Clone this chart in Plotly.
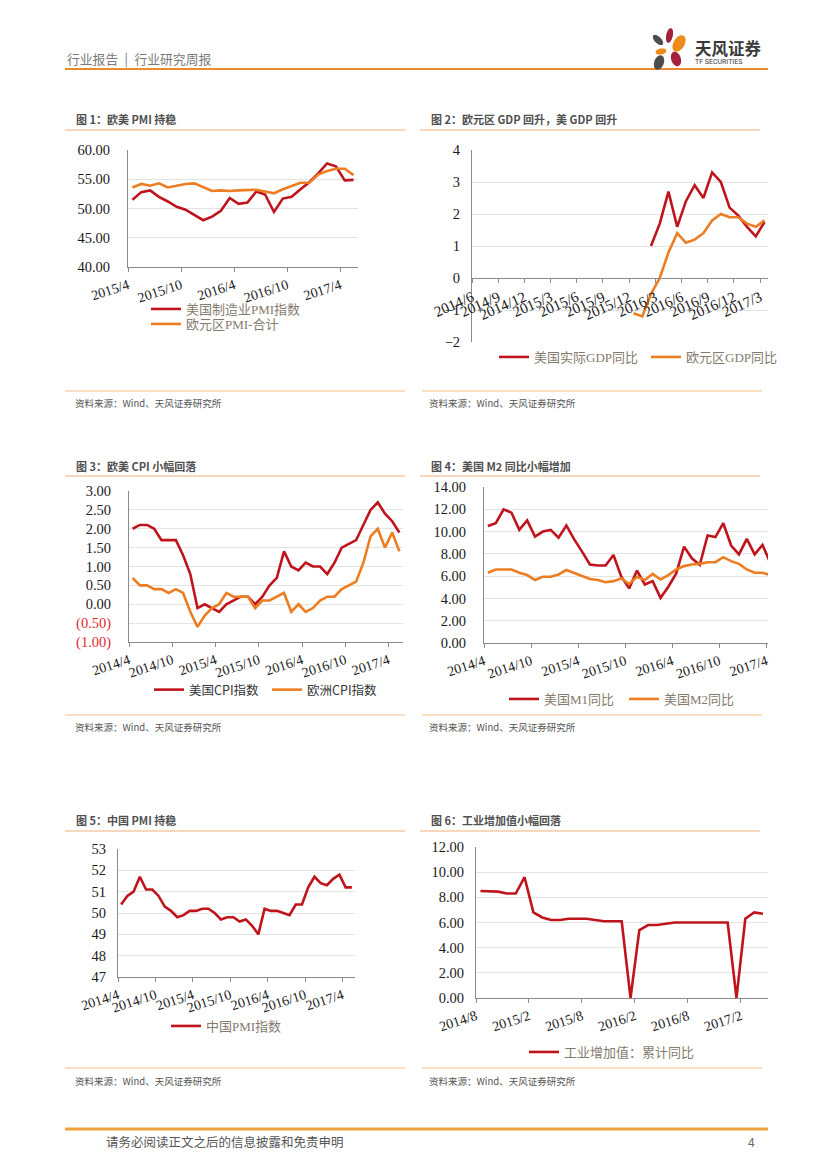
import math
import plotly.graph_objects as go

# The page body has an 8px margin, so the figure is 8px smaller each way and
# page pixel coordinates are shifted by that margin.
PAGE_W, PAGE_H = 827, 1169
OFF = 8
W, H = PAGE_W - OFF, PAGE_H - OFF


def fx(p):
    return (p - OFF) / W


def fy(p):
    return 1 - (p - OFF) / H


def months(y, m, n):
    out = []
    for _ in range(n):
        out.append(f"{y}/{m}")
        m += 1
        if m > 12:
            m = 1
            y += 1
    return out


# ---------------- data ----------------
# Chart 1: 欧美 PMI
c1_months = months(2015, 4, 26)
c1_ticks = ["2015/4", "2015/10", "2016/4", "2016/10", "2017/4"]
us_pmi = [51.5, 52.8, 53.1, 52.0, 51.2, 50.3, 49.8, 48.9, 48.0, 48.6, 49.6, 51.8, 50.8,
          51.0, 52.9, 52.4, 49.4, 51.7, 52.0, 53.3, 54.5, 56.0, 57.7, 57.2, 54.8, 54.9]
eu_pmi = [53.6, 54.2, 53.9, 54.3, 53.6, 53.9, 54.2, 54.3, 53.6, 53.0, 53.1, 53.0, 53.1,
          53.1, 53.2, 52.9, 52.6, 53.3, 53.9, 54.4, 54.4, 55.8, 56.4, 56.8, 56.8, 55.7]

# Chart 2: GDP 同比
c2_months = months(2014, 6, 34)
c2_ticks = ["2014/6", "2014/9", "2014/12", "2015/3", "2015/6", "2015/9", "2015/12",
            "2016/3", "2016/6", "2016/9", "2016/12", "2017/3"]
us_gdp = [None] * 20 + [1.0, 1.7, 2.7, 1.6, 2.4, 2.9, 2.5, 3.3, 3.0, 2.2, 1.95, 1.6, 1.3, 1.75]
eu_gdp = [None] * 18 + [-1.1, -1.2, -0.5, 0.0, 0.8, 1.4, 1.1, 1.2, 1.4, 1.8, 2.0, 1.9, 1.9,
                        1.7, 1.6, 1.8]

# Chart 3: CPI
c3_months = months(2014, 4, 38)
c3_ticks = ["2014/4", "2014/10", "2015/4", "2015/10", "2016/4", "2016/10", "2017/4"]
us_cpi = [2.0, 2.1, 2.1, 2.0, 1.7, 1.7, 1.7, 1.3, 0.8, -0.1, 0.0, -0.1, -0.2, 0.0, 0.1,
          0.2, 0.2, 0.0, 0.2, 0.5, 0.7, 1.4, 1.0, 0.9, 1.1, 1.0, 1.0, 0.8, 1.1, 1.5, 1.6,
          1.7, 2.1, 2.5, 2.7, 2.4, 2.2, 1.9]
eu_cpi = [0.7, 0.5, 0.5, 0.4, 0.4, 0.3, 0.4, 0.3, -0.2, -0.6, -0.3, -0.1, 0.0, 0.3, 0.2,
          0.2, 0.2, -0.1, 0.1, 0.1, 0.2, 0.3, -0.2, 0.0, -0.2, -0.1, 0.1, 0.2, 0.2, 0.4,
          0.5, 0.6, 1.1, 1.8, 2.0, 1.5, 1.9, 1.4]

# Chart 4: M1 / M2
c4_months = months(2014, 4, 37)
c4_ticks = ["2014/4", "2014/10", "2015/4", "2015/10", "2016/4", "2016/10", "2017/4"]
us_m1 = [10.5, 10.75, 12.0, 11.7, 10.15, 11.0, 9.55, 10.0, 10.15, 9.45, 10.55, 9.3, 8.2,
         7.05, 6.95, 6.95, 7.9, 5.95, 4.9, 6.5, 5.25, 5.55, 4.05, 5.05, 6.25, 8.65, 7.6,
         7.0, 9.65, 9.5, 10.75, 8.75, 7.95, 9.35, 7.95, 8.8, 7.2]
us_m2 = [6.3, 6.6, 6.6, 6.6, 6.3, 6.1, 5.65, 5.95, 5.95, 6.15, 6.55, 6.3, 6.05, 5.75, 5.65,
         5.45, 5.55, 5.8, 5.3, 5.95, 5.65, 6.2, 5.7, 6.1, 6.6, 6.9, 7.05, 7.1, 7.25, 7.25,
         7.7, 7.35, 7.1, 6.6, 6.3, 6.3, 6.1]

# Chart 5: 中国 PMI
c5_months = months(2014, 4, 38)
c5_ticks = ["2014/4", "2014/10", "2015/4", "2015/10", "2016/4", "2016/10", "2017/4"]
cn_pmi = [50.4, 50.8, 51.0, 51.7, 51.1, 51.1, 50.8, 50.3, 50.1, 49.8, 49.9, 50.1, 50.1,
          50.2, 50.2, 50.0, 49.7, 49.8, 49.8, 49.6, 49.7, 49.4, 49.0, 50.2, 50.1, 50.1,
          50.0, 49.9, 50.4, 50.4, 51.2, 51.7, 51.4, 51.3, 51.6, 51.8, 51.2, 51.2]

# Chart 6: 工业增加值
c6_months = months(2014, 8, 33)
c6_ticks = ["2014/8", "2015/2", "2015/8", "2016/2", "2016/8", "2017/2"]
iva = [8.5, 8.5, 8.45, 8.3, 8.3, 9.6, 6.8, 6.4, 6.2, 6.2, 6.3, 6.3, 6.3, 6.2, 6.1, 6.1,
       6.1, 0.0, 5.4, 5.8, 5.8, 5.9, 6.0, 6.0, 6.0, 6.0, 6.0, 6.0, 6.0, 0.0, 6.3, 6.8, 6.7]

# ---------------- styling ----------------
RED = "#c0141c"
ORANGE = "#ec7d22"
AX = "#8a8a8a"
GRID = "#e3e3e3"
SERIF = "Liberation Serif, Noto Sans CJK SC"
SANS = "Noto Sans CJK SC"
XFONT = dict(family=SERIF, size=14, color="#1a1a1a")
YFONT = dict(family=SERIF, size=14.5, color="#1a1a1a")
LEG_SERIF = dict(family=SERIF, size=13, color="#857a6e")
LEG_SANS = dict(family=SANS, size=12.5, color="#333333")

fig = go.Figure()


def setup_axes(n, xpx, ypx, xrange, yrange, labels, ticklabels, yvals, ytext,
               angle, standoff, xpos_px=None, xfont=XFONT):
    sx = "" if n == 1 else str(n)
    tv = [labels.index(t) - 0.5 for t in ticklabels]
    xa = dict(domain=[fx(xpx[0]), fx(xpx[1])], range=xrange, tickmode="array",
              tickvals=tv, ticktext=ticklabels, tickangle=angle, showgrid=False,
              zeroline=False, showline=True, linecolor=AX, linewidth=1,
              ticks="outside", ticklen=4, tickcolor=AX, tickfont=xfont,
              automargin=False)
    if xpos_px is None:
        xa["anchor"] = "y" + sx
    else:
        xa["anchor"] = "free"
        xa["position"] = fy(xpos_px)
    ya = dict(domain=[fy(ypx[1]), fy(ypx[0])], range=yrange, anchor="x" + sx,
              tickmode="array", tickvals=yvals, ticktext=ytext, showgrid=True,
              gridcolor=GRID, gridwidth=1, zeroline=False, showline=True,
              linecolor=AX, linewidth=1, ticks="", tickfont=YFONT,
              ticklabelstandoff=standoff, automargin=False)
    fig.update_layout(**{"xaxis" + sx: xa, "yaxis" + sx: ya})


leg_count = [0]


def add_series(n, labels, vals, name, color, lx, ly, font):
    sx = "" if n == 1 else str(n)
    leg_count[0] += 1
    k = leg_count[0]
    lname = "legend" if k == 1 else f"legend{k}"
    fig.add_trace(go.Scatter(
        x=list(range(len(labels))), y=vals, mode="lines", name=name,
        text=labels, hovertemplate="%{text}: %{y}<extra></extra>",
        line=dict(color=color, width=2.6), xaxis="x" + sx, yaxis="y" + sx,
        legend=lname, showlegend=True))
    fig.update_layout(**{lname: dict(x=fx(lx - 6), y=fy(ly), xanchor="left",
                                     yanchor="middle", orientation="v",
                                     bgcolor="rgba(0,0,0,0)", font=font,
                                     itemwidth=30, borderwidth=0)})


def fmt2(v):
    return f"{v:.2f}"


# Chart 1
y1 = [40, 45, 50, 55, 60]
setup_axes(1, (128, 358), (150, 267), [-0.5, 25.5], [40, 60], c1_months, c1_ticks,
           y1, [fmt2(v) for v in y1], -18, 14)
add_series(1, c1_months, us_pmi, "美国制造业PMI指数", RED, 152, 309, LEG_SERIF)
add_series(1, c1_months, eu_pmi, "欧元区PMI-合计", ORANGE, 152, 324, LEG_SERIF)

# Chart 2
y2 = [-2, -1, 0, 1, 2, 3, 4]
setup_axes(2, (472, 768), (150, 342), [-0.5, 33.4], [-2, 4], c2_months, c2_ticks,
           y2, [str(v).replace("-", "\u2212") for v in y2], -24, 8, xpos_px=278,
           xfont=dict(family=SERIF, size=15, color="#1a1a1a"))
add_series(2, c2_months, us_gdp, "美国实际GDP同比", RED, 500, 357, LEG_SERIF)
add_series(2, c2_months, eu_gdp, "欧元区GDP同比", ORANGE, 652, 357, LEG_SERIF)

# Chart 3
y3 = [-1.0, -0.5, 0.0, 0.5, 1.0, 1.5, 2.0, 2.5, 3.0]
y3_text = [(f"<span style='color:#e0282e'>({abs(v):.2f})</span>" if v < 0 else fmt2(v))
           for v in y3]
setup_axes(3, (129, 403), (491, 642), [-0.5, 37.5], [-1, 3], c3_months, c3_ticks,
           y3, y3_text, -18, 14)
add_series(3, c3_months, us_cpi, "美国CPI指数", RED, 155, 690, LEG_SANS)
add_series(3, c3_months, eu_cpi, "欧洲CPI指数", ORANGE, 273, 690, LEG_SANS)

# Chart 4
y4 = [0, 2, 4, 6, 8, 10, 12, 14]
setup_axes(4, (484, 768), (487, 643), [-0.5, 35.7], [0, 14], c4_months, c4_ticks,
           y4, [fmt2(v) for v in y4], -18, 14)
add_series(4, c4_months, us_m1, "美国M1同比", RED, 510, 699, LEG_SERIF)
add_series(4, c4_months, us_m2, "美国M2同比", ORANGE, 630, 699, LEG_SERIF)

# Chart 5
y5 = [47, 48, 49, 50, 51, 52, 53]
setup_axes(5, (118, 355), (849, 977), [-0.5, 37.5], [47, 53], c5_months, c5_ticks,
           y5, [str(v) for v in y5], -18, 8)
add_series(5, c5_months, cn_pmi, "中国PMI指数", RED, 172, 1026, LEG_SERIF)

# Chart 6
y6 = [0, 2, 4, 6, 8, 10, 12]
setup_axes(6, (476, 768), (847, 998), [-0.5, 32.57], [0, 12], c6_months, c6_ticks,
           y6, [fmt2(v) for v in y6], -18, 8)
add_series(6, c6_months, iva, "工业增加值：累计同比", RED, 530, 1052, LEG_SERIF)

# ---------------- page decorations ----------------
def hline(x0, x1, y, color, width):
    fig.add_shape(type="line", xref="paper", yref="paper", x0=fx(x0), x1=fx(x1),
                  y0=fy(y), y1=fy(y), line=dict(color=color, width=width))


def text(x, y, s, size, color, family=SANS, anchor="left"):
    fig.add_annotation(xref="paper", yref="paper", x=fx(x), y=fy(y), text=s,
                       showarrow=False, xanchor=anchor, yanchor="middle",
                       font=dict(family=family, size=size, color=color))


# header
hline(65, 768, 69, "#e98a2e", 2.2)
text(65, 58, "行业报告\u2002|\u2002行业研究周报", 12.8, "#7a7a7a")
text(693, 47.5, "<b>天风证券</b>", 16.5, "#3a3a3a")
text(693, 62, "TF SECURITIES", 7, "#3a3a3a", family="Roboto")


def ellipse_path(cx, cy, rx, ry, ang, n=28):
    a = math.radians(ang)
    pts = []
    for k in range(n):
        t = 2 * math.pi * k / n
        ex, ey = rx * math.cos(t), ry * math.sin(t)
        px = cx + ex * math.cos(a) - ey * math.sin(a)
        py = cy + ex * math.sin(a) + ey * math.cos(a)
        pts.append(f"{fx(px):.5f},{fy(py):.5f}")
    return "M " + " L ".join(pts) + " Z"


petals = [
    (669.5, 35.5, 3.3, 7.5, 12, "#a3213a"),
    (679.0, 43.5, 5.5, 9.0, 30, "#ee8a1a"),
    (658.0, 40.0, 3.3, 6.5, -45, "#4d4d4d"),
    (661.0, 51.5, 5.5, 3.0, -10, "#ee8a1a"),
    (676.0, 59.0, 4.8, 7.5, -18, "#a3213a"),
    (659.0, 62.5, 4.8, 7.5, 20, "#4d4d4d"),
]
for cx, cy, rx, ry, ang, col in petals:
    fig.add_shape(type="path", xref="paper", yref="paper",
                  path=ellipse_path(cx, cy, rx, ry, ang), fillcolor=col,
                  line=dict(width=0))

# chart titles, underlines, source lines
titles = [
    (74, 119, "图 1：欧美 PMI 持稳"),
    (429, 119, "图 2：欧元区 GDP 回升，美 GDP 回升"),
    (74, 466, "图 3：欧美 CPI 小幅回落"),
    (429, 466, "图 4：美国 M2 同比小幅增加"),
    (74, 820, "图 5：中国 PMI 持稳"),
    (429, 820, "图 6：工业增加值小幅回落"),
]
for x, y, s in titles:
    text(x, y, f"<b>{s}</b>", 11, "#505050")

for y in (130, 476, 831):
    hline(65, 405, y, "#f1b27a", 1.2)
    hline(420, 760, y, "#f1b27a", 1.2)

for y in (391, 715, 1068):
    hline(65, 405, y, "#f1bd88", 1.2)
    hline(422, 762, y, "#f1bd88", 1.2)

for y in (403, 727, 1081):
    text(73, y, "资料来源：Wind、天风证券研究所", 9.5, "#555555")
    text(427, y, "资料来源：Wind、天风证券研究所", 9.5, "#555555")

# footer
hline(65, 768, 1129, "#eca13a", 3)
text(104, 1141, "请务必阅读正文之后的信息披露和免责申明", 12.5, "#555555")
text(757, 1141, "4", 12, "#666666", anchor="right")

fig.update_layout(width=W, height=H, margin=dict(l=0, r=0, t=0, b=0, autoexpand=False),
                  paper_bgcolor="white", plot_bgcolor="white",
                  showlegend=True)

fig.write_html("out.html")
